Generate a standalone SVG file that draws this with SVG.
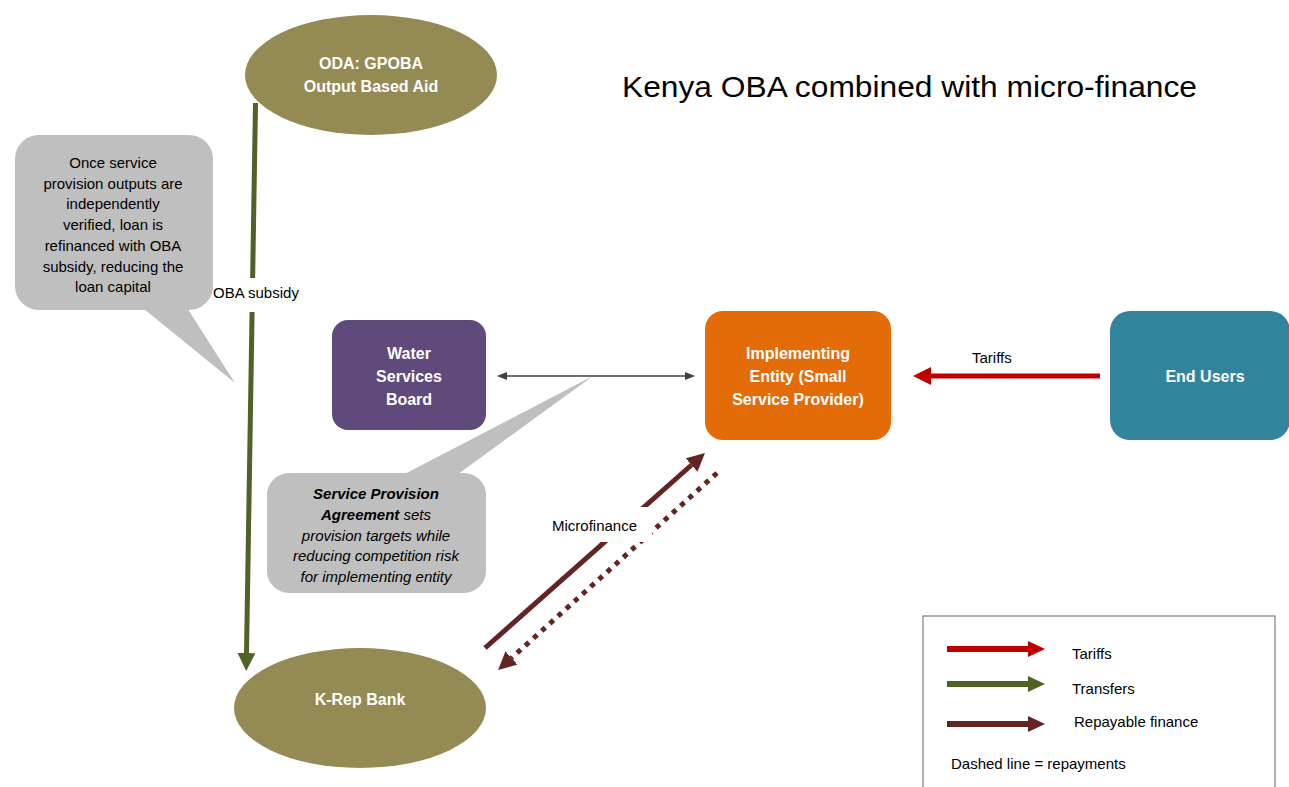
<svg xmlns="http://www.w3.org/2000/svg" width="1289" height="787" viewBox="0 0 1289 787">
<style>
text{font-family:"Liberation Sans",Arial,sans-serif;}
.nt{fill:#fff;font-weight:bold;font-size:16px;text-anchor:middle;}
.ct{fill:#000;font-size:15px;text-anchor:middle;}
.lb{fill:#000;font-size:15px;}
.callout{fill:#BFBFBF;}
</style>
<defs>
<marker id="hGreen" viewBox="0 0 18 18" refX="0" refY="9" markerWidth="18" markerHeight="18" markerUnits="userSpaceOnUse" orient="auto"><path d="M0,0 L18,9 L0,18 z" fill="#4F6228"/></marker>
<marker id="hRed" viewBox="0 0 18 18" refX="0" refY="9" markerWidth="18" markerHeight="18" markerUnits="userSpaceOnUse" orient="auto"><path d="M0,0 L18,9 L0,18 z" fill="#C00000"/></marker>
<marker id="hBrown" viewBox="0 0 18 18" refX="0" refY="9" markerWidth="18" markerHeight="18" markerUnits="userSpaceOnUse" orient="auto"><path d="M0,0 L18,9 L0,18 z" fill="#632523"/></marker>
<marker id="hGrey" viewBox="0 0 10 8" refX="0" refY="4" markerWidth="10" markerHeight="8" markerUnits="userSpaceOnUse" orient="auto-start-reverse"><path d="M0,0 L10,4 L0,8 z" fill="#404040"/></marker>
<marker id="lRed" viewBox="0 0 17 16" refX="0" refY="8" markerWidth="17" markerHeight="16" markerUnits="userSpaceOnUse" orient="auto"><path d="M0,0 L17,8 L0,16 z" fill="#C00000"/></marker>
<marker id="lGreen" viewBox="0 0 17 16" refX="0" refY="8" markerWidth="17" markerHeight="16" markerUnits="userSpaceOnUse" orient="auto"><path d="M0,0 L17,8 L0,16 z" fill="#4F6228"/></marker>
<marker id="lBrown" viewBox="0 0 17 16" refX="0" refY="8" markerWidth="17" markerHeight="16" markerUnits="userSpaceOnUse" orient="auto"><path d="M0,0 L17,8 L0,16 z" fill="#632523"/></marker>
</defs>
<rect width="1289" height="787" fill="#fff"/>

<text x="622" y="97" font-size="30" textLength="575" lengthAdjust="spacingAndGlyphs" fill="#000">Kenya OBA combined with micro-finance</text>

<g id="callout-oba">
<polygon class="callout" points="133,300 182,300 235,383"/>
<rect class="callout" x="15" y="135" width="198" height="175" rx="24"/>
<text class="ct" y="168"><tspan x="113">Once service</tspan><tspan x="113" dy="20.7">provision outputs  are</tspan><tspan x="113" dy="20.7">independently</tspan><tspan x="113" dy="20.7">verified, loan is</tspan><tspan x="113" dy="20.7">refinanced with OBA</tspan><tspan x="113" dy="20.7">subsidy, reducing  the</tspan><tspan x="113" dy="20.7">loan capital</tspan></text>
</g>

<g id="callout-spa">
<polygon class="callout" points="393,480 450,480 593,376"/>
<rect class="callout" x="267" y="473" width="219" height="120" rx="22"/>
<text class="ct" y="499" font-style="italic"><tspan x="376" font-weight="bold">Service Provision</tspan><tspan x="376" dy="20.8"><tspan font-weight="bold">Agreement</tspan> sets</tspan><tspan x="376" dy="20.8">provision targets  while</tspan><tspan x="376" dy="20.8">reducing competition risk</tspan><tspan x="376" dy="20.8">for implementing entity</tspan></text>
</g>

<g id="connectors">
<line x1="255.5" y1="103" x2="246.5" y2="653" stroke="#4F6228" stroke-width="5" marker-end="url(#hGreen)"/>
<rect x="214" y="278" width="88" height="34" fill="#fff"/>
<text class="lb" x="213" y="298" font-size="14.5">OBA subsidy</text>

<line x1="507" y1="376" x2="685" y2="376" stroke="#404040" stroke-width="1.3" marker-start="url(#hGrey)" marker-end="url(#hGrey)"/>

<line x1="1100" y1="376" x2="931" y2="376" stroke="#C00000" stroke-width="5" marker-end="url(#hRed)"/>
<text class="lb" x="972" y="363" font-size="14.5">Tariffs</text>

<line x1="485" y1="648" x2="691.5" y2="465" stroke="#632523" stroke-width="5" marker-end="url(#hBrown)"/>
<line x1="717" y1="473" x2="511.5" y2="658" stroke="#632523" stroke-width="5" stroke-dasharray="5 6" marker-end="url(#hBrown)"/>
<rect x="542" y="507" width="110" height="35" fill="#fff"/>
<text class="lb" x="552" y="531">Microfinance</text>
</g>

<g id="oda">
<ellipse cx="371" cy="75" rx="126" ry="60" fill="#948A54"/>
<text class="nt" x="371" y="69">ODA: GPOBA</text>
<text class="nt" x="371" y="92">Output Based  Aid</text>
</g>

<g id="krep">
<ellipse cx="360" cy="708" rx="126" ry="60" fill="#948A54"/>
<text class="nt" x="360" y="705">K-Rep Bank</text>
</g>

<g id="wsb">
<rect x="332" y="320" width="154" height="110" rx="16" fill="#604A7B"/>
<text class="nt" x="409" y="359">Water</text>
<text class="nt" x="409" y="382">Services</text>
<text class="nt" x="409" y="405">Board</text>
</g>

<g id="implementing">
<rect x="705" y="311" width="186" height="129" rx="18" fill="#E36C09"/>
<text class="nt" x="798" y="359">Implementing</text>
<text class="nt" x="798" y="382">Entity (Small</text>
<text class="nt" x="798" y="405">Service Provider)</text>
</g>

<g id="endusers">
<rect x="1110" y="311" width="180" height="129" rx="20" fill="#31849B"/>
<text class="nt" x="1205" y="382">End Users</text>
</g>

<g id="legend">
<rect x="923" y="616" width="352" height="200" fill="#fff" stroke="#7F7F7F" stroke-width="1.2"/>
<line x1="947" y1="649" x2="1028" y2="649" stroke="#C00000" stroke-width="6" marker-end="url(#lRed)"/>
<line x1="947" y1="684" x2="1028" y2="684" stroke="#4F6228" stroke-width="6" marker-end="url(#lGreen)"/>
<line x1="947" y1="724" x2="1028" y2="724" stroke="#632523" stroke-width="6" marker-end="url(#lBrown)"/>
<text class="lb" x="1072" y="659" font-size="14.5">Tariffs</text>
<text class="lb" x="1072" y="694" font-size="14.5">Transfers</text>
<text class="lb" x="1074" y="727" font-size="14.5">Repayable finance</text>
<text class="lb" x="951" y="769" font-size="13">Dashed line = repayments</text>
</g>
</svg>
